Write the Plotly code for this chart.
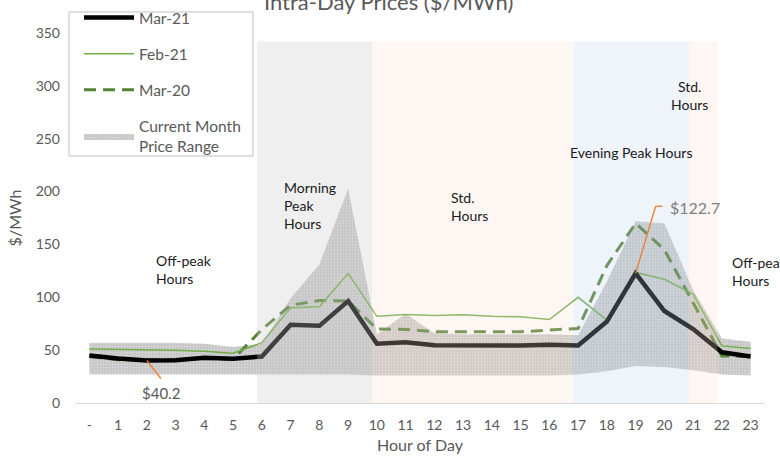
import plotly.graph_objects as go

# ---- data ----
hours = list(range(24))
hour_labels = ["-"] + [str(h) for h in range(1, 24)]
mar21 = [45, 42, 40.2, 40.5, 42.8, 41.9, 44, 74, 73, 96.5, 56, 57.5, 54.7, 54.4, 54.4, 54.4, 55, 54.4, 77, 122.7, 87, 70, 48, 44]
feb21 = [51, 50.7, 50, 50, 49, 47, 57, 90, 91, 122.5, 82, 83.7, 82.8, 83.5, 82, 81.5, 79, 100, 78.5, 123.5, 117, 103, 54, 51.5]
mar20 = [44, 41, 41, 41, 42, 41.5, 69.5, 92.5, 97, 96.5, 70, 69.6, 67.4, 67.4, 67, 67.4, 69, 70.5, 130, 170, 145, 95, 44.5, 44]
range_low = [27, 27, 27, 27, 27, 27, 27, 27, 27, 27, 26, 26, 26, 26, 26, 26, 26, 27, 30, 35, 34, 31, 27, 26]
range_high = [57, 57, 57, 57, 56, 53, 56, 99, 131, 203, 65, 84.5, 66, 65, 65, 65, 65, 64, 115, 172, 170, 107, 61, 58]

# period shading: (start, end, label)
periods = [(5.83, 9.83, "morning"), (9.83, 16.84, "std"), (16.84, 20.86, "evening"), (20.86, 21.85, "std")]
period_top = 342

min_label = ("$40.2", 2, 40.2)
max_label = ("$122.7", 19, 122.7)

GRAY = "#595959"
FONT = "Lato"

fig = go.Figure()

# price range band
fig.add_trace(go.Scatter(
    x=hours + hours[::-1], y=range_high + range_low[::-1],
    mode="lines", line=dict(width=0), fill="toself",
    fillcolor="#C4C4C4",
    fillpattern=dict(shape=".", bgcolor="#C4C4C4", fgcolor="#F2F2F2", size=3, solidity=0.3),
    name="Current Month<br>Price Range", legendgroup="d", legendrank=4, hoverinfo="skip"))

fig.add_trace(go.Scatter(x=hours, y=mar20, mode="lines", name="Mar-20", legendgroup="c", legendrank=3,
                         line=dict(color="#548235", width=3, dash="12px,7px")))
fig.add_trace(go.Scatter(x=hours, y=feb21, mode="lines", name="Feb-21", legendgroup="b", legendrank=2,
                         line=dict(color="#70AD47", width=1.5)))
fig.add_trace(go.Scatter(x=hours, y=mar21, mode="lines", name="Mar-21", legendgroup="a", legendrank=1,
                         line=dict(color="#000000", width=4.5)))

shade_colors = {"morning": "rgba(204,204,204,0.31)", "std": "rgba(247,219,207,0.25)",
                "evening": "rgba(191,207,235,0.25)"}
shapes = []
for x0, x1, kind in periods:
    shapes.append(dict(type="rect", xref="x", yref="y", x0=x0, x1=x1, y0=0, y1=period_top,
                       fillcolor=shade_colors[kind], line=dict(width=0), layer="above"))

# legend frame
shapes.append(dict(type="rect", xref="paper", yref="paper", x0=-0.0087, x1=0.258, y0=0.6676, y1=1.0568,
                   fillcolor="white", line=dict(color="#BFBFBF", width=1), layer="above"))

# leader lines
LEAD = "#ED7D31"
shapes.append(dict(type="line", xref="x", yref="y", xsizemode="pixel", ysizemode="pixel",
                   xanchor=min_label[1], yanchor=min_label[2], x0=0, y0=0, x1=14, y1=-18,
                   line=dict(color=LEAD, width=1.3)))
shapes.append(dict(type="line", xref="x", yref="y", xsizemode="pixel", ysizemode="pixel",
                   xanchor=max_label[1], yanchor=max_label[2], x0=0, y0=0, x1=20, y1=67,
                   line=dict(color=LEAD, width=1.3)))
shapes.append(dict(type="line", xref="x", yref="y", xsizemode="pixel", ysizemode="pixel",
                   xanchor=max_label[1], yanchor=max_label[2], x0=20, y0=67, x1=27, y1=67,
                   line=dict(color=LEAD, width=1.3)))

TXT = "#1A1A1A"
annotations = [
    dict(text="Intra-Day Prices ($/MWh)", xref="paper", yref="paper", x=0.455, y=1.0838,
         xanchor="center", yanchor="middle", showarrow=False, font=dict(size=22, color=GRAY, family=FONT)),
    dict(text="Off-peak<br>Hours", x=2.24, y=126.7, xanchor="left", align="left"),
    dict(text="Morning<br>Peak<br>Hours", x=6.70, y=187.2, xanchor="left", align="left"),
    dict(text="Std.<br>Hours", x=12.51, y=185.8, xanchor="left", align="left"),
    dict(text="Evening Peak Hours", x=18.83, y=236.6, xanchor="center", align="center"),
    dict(text="Std.<br>Hours", x=20.89, y=290.7, xanchor="center", align="center"),
    dict(text="Off-peak<br>Hours", x=22.28, y=124.4, xanchor="left", align="left"),
]
for a in annotations[1:]:
    a.update(xref="x", yref="y", yanchor="middle", showarrow=False,
             font=dict(size=14, color=TXT, family=FONT))
annotations.append(dict(text=min_label[0], x=min_label[1], y=min_label[2], xref="x", yref="y",
                        xshift=14.5, yshift=-32, xanchor="center", yanchor="middle", showarrow=False,
                        font=dict(size=15, color=GRAY, family=FONT)))
annotations.append(dict(text=max_label[0], x=max_label[1], y=max_label[2], xref="x", yref="y",
                        xshift=32, yshift=66, xanchor="left", yanchor="middle", showarrow=False,
                        font=dict(size=16, color="#7F7F7F", family=FONT)))

fig.update_layout(
    width=780, height=459,
    margin=dict(l=75, r=15, t=33, b=56, autoexpand=False),
    paper_bgcolor="white", plot_bgcolor="white",
    font=dict(family=FONT, color=GRAY, size=14),
    shapes=shapes, annotations=annotations,
    showlegend=True,
    legend=dict(x=0.0058, y=1.0865, xanchor="left", yanchor="top",
                borderwidth=0, bgcolor="rgba(0,0,0,0)",
                font=dict(size=15.5, color=GRAY, family=FONT),
                itemwidth=50, tracegroupgap=13, traceorder="grouped"),
    xaxis=dict(range=[-0.5, 23.5], tickmode="array", tickvals=hours, ticktext=hour_labels,
               showgrid=False, zeroline=False, showline=True, linecolor="#D9D9D9", linewidth=1,
               ticks="", ticklabelstandoff=9, tickfont=dict(size=14, color=GRAY),
               title=dict(text="Hour of Day", font=dict(size=16, color=GRAY), standoff=8)),
    yaxis=dict(range=[0, 350], dtick=50, showgrid=False, zeroline=False, showline=False,
               ticks="", ticklabelstandoff=14, tickfont=dict(size=14, color=GRAY),
               title=dict(text="$/MWh", font=dict(size=16, color=GRAY), standoff=10)),
)

fig.write_html("out.html", config={"displayModeBar": False},
               post_script="document.body.style.margin='0';document.body.style.overflow='hidden';")
